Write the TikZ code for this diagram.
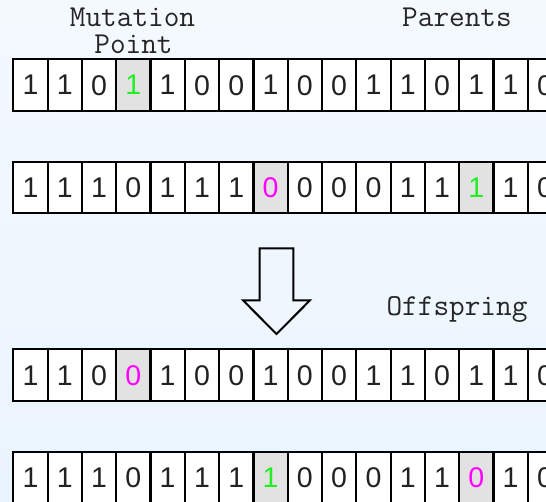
\documentclass[tikz,border=0pt]{standalone}
\usepackage{fontspec}
\setmainfont{Liberation Sans}
\definecolor{bgtop}{HTML}{F4F9FE}
\definecolor{bgbot}{HTML}{EAF4FE}
\definecolor{hlgrey}{HTML}{E2E2E2}
\definecolor{digitgrey}{HTML}{222222}
\definecolor{mutgreen}{HTML}{22EE22}
\definecolor{mutmag}{HTML}{FF00FF}
\begin{document}
\begin{tikzpicture}[x=1pt,y=-1pt,
  cell/.style={draw=black, line width=2.2pt, fill=white, minimum width=34.3pt,
    minimum height=51.7pt, inner sep=0pt, outer sep=0pt,
    font=\fontsize{28.5}{28.5}\selectfont, text=digitgrey},
  plain/.style={},
  grn/.style={fill=hlgrey, text=mutgreen},
  mag/.style={fill=hlgrey, text=mutmag},
  lab/.style={font=\ttfamily\fontsize{30.4}{30.4}\selectfont, inner sep=0pt, anchor=base, text=black!85},
  blockarrow/.style={draw=black, line width=2pt, line join=miter}
]
\useasboundingbox (0,0) rectangle (546,502);
\shade[top color=bgtop, bottom color=bgbot] (0,0) rectangle (546,502);
\clip (0,0) rectangle (546,502);

% labels
\node[lab] (mut) at (132.5,26.7) {Mutation};
\node[lab] (pt) at (133.5,53.3) {Point};
\node[lab] (par) at (457,26.7) {Parents};
\node[lab] (off) at (457,316) {Offspring};

% parent 1
\foreach \b/\s [count=\i] in {1/plain,1/plain,0/plain,1/grn,1/plain,0/plain,0/plain,1/plain,0/plain,0/plain,1/plain,1/plain,0/plain,1/plain,1/plain,0/plain}
  \node[cell,\s] (pa\i) at ({13.3+34.3*(\i-0.5)},85.2) {\b};
% parent 2
\foreach \b/\s [count=\i] in {1/plain,1/plain,1/plain,0/plain,1/plain,1/plain,1/plain,0/mag,0/plain,0/plain,0/plain,1/plain,1/plain,1/grn,1/plain,0/plain}
  \node[cell,\s] (pb\i) at ({13.3+34.3*(\i-0.5)},187.5) {\b};
% offspring 1
\foreach \b/\s [count=\i] in {1/plain,1/plain,0/plain,0/mag,1/plain,0/plain,0/plain,1/plain,0/plain,0/plain,1/plain,1/plain,0/plain,1/plain,1/plain,0/plain}
  \node[cell,\s] (oa\i) at ({13.3+34.3*(\i-0.5)},375.2) {\b};
% offspring 2
\foreach \b/\s [count=\i] in {1/plain,1/plain,1/plain,0/plain,1/plain,1/plain,1/plain,1/grn,0/plain,0/plain,0/plain,1/plain,1/plain,0/mag,1/plain,0/plain}
  \node[cell,\s] (ob\i) at ({13.3+34.3*(\i-0.5)},477.6) {\b};

% block arrow
\draw[blockarrow] (259.5,248.5) -- (293.3,248.5) -- (293.3,300.3) -- (310,300.3)
  -- (276.5,334) -- (243,300.3) -- (259.5,300.3) -- cycle;
\end{tikzpicture}
\end{document}
